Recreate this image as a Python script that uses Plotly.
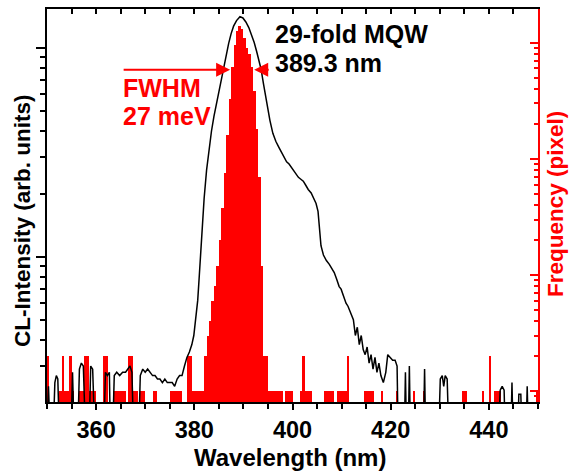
import plotly.graph_objects as go

# Histogram of emission wavelength per pixel (bin centres in nm, 0.5 nm bins)
hist_center = [
    350.25, 352.75, 353.25, 353.75, 354.25, 354.75, 355.25, 356.75, 357.25, 357.75,
    358.25, 358.75, 359.25, 359.75, 361.75, 362.25, 363.75, 364.25, 364.75, 365.25,
    365.75, 366.75, 367.25, 367.75, 368.25, 369.25, 369.75, 371.75, 372.25, 375.25,
    375.75, 376.25, 376.75, 377.25, 378.75, 379.25, 379.75, 380.25, 380.75, 381.25,
    381.75, 382.25, 382.75, 383.25, 383.75, 384.25, 384.75, 385.25, 385.75, 386.25,
    386.75, 387.25, 387.75, 388.25, 388.75, 389.25, 389.75, 390.25, 390.75, 391.25,
    391.75, 392.25, 392.75, 393.25, 393.75, 394.25, 394.75, 395.25, 395.75, 396.25,
    396.75, 397.25, 397.75, 398.75, 399.25, 399.75, 401.75, 402.25, 402.75, 403.25,
    403.75, 406.75, 407.25, 407.75, 408.25, 409.25, 409.75, 410.25, 410.75, 411.25,
    414.75, 415.25, 415.75, 416.25, 418.25, 421.25, 424.75, 426.75, 434.75, 435.25,
    438.75, 440.25, 441.25, 441.75, 442.25, 449.75,
]
hist_count = [
    2, 1, 2, 1, 1, 2, 1, 1, 1, 2,
    2, 1, 1, 1, 2, 2, 1, 1, 1, 1,
    1, 2, 2, 1, 1, 1, 1, 1, 1, 1,
    1, 1, 1, 1, 2, 2, 1, 1, 1, 1,
    1, 2, 3, 4, 6, 8, 12, 20, 38, 75,
    160, 330, 620, 950, 1250, 1400, 1300, 1100, 900, 800,
    620, 380, 180, 70, 12, 2, 2, 1, 1, 1,
    1, 1, 1, 1, 1, 1, 1, 2, 1, 1,
    1, 1, 1, 1, 1, 1, 1, 1, 1, 2,
    1, 1, 1, 1, 1, 1, 1, 1, 1, 1,
    1, 2, 1, 1, 1, 1,
]

# Cathodoluminescence spectrum (arb. units, log scale)
cl_wavelength = [
    350.0, 350.3, 350.6, 351.3, 351.6, 351.9, 352.2, 352.5, 354.9, 355.2,
    355.5, 356.3, 356.6, 357.0, 357.4, 357.8, 358.6, 358.9, 359.3, 359.7,
    361.6, 361.9, 362.3, 362.7, 362.9, 363.4, 363.7, 364.2, 364.8, 365.4,
    366.0, 366.5, 366.9, 367.3, 367.6, 368.7, 369.0, 369.5, 370.0, 370.5,
    371.0, 371.5, 372.0, 372.5, 373.0, 373.5, 374.0, 374.5, 375.0, 375.5,
    376.0, 376.5, 377.0, 377.5, 378.0, 378.5, 379.0, 379.5, 379.9, 380.3,
    380.7, 381.0, 381.5, 382.0, 382.5, 383.0, 383.5, 384.0, 384.5, 385.0,
    385.5, 386.0, 386.5, 387.0, 387.5, 388.0, 388.6, 389.3, 389.9, 390.5,
    391.1, 391.6, 392.2, 392.7, 393.2, 393.6, 394.1, 394.5, 394.8, 395.4,
    396.0, 396.6, 397.2, 397.8, 398.3, 398.8, 399.3, 399.7, 400.2, 400.7,
    401.2, 401.7, 402.2, 402.7, 403.2, 403.8, 404.3, 404.8, 405.2, 405.5,
    405.8, 406.3, 406.9, 407.5, 408.0, 408.5, 409.0, 409.5, 409.9, 410.4,
    410.9, 411.3, 411.8, 412.4, 412.8, 413.2, 413.6, 414.0, 414.4, 414.8,
    415.2, 415.6, 416.0, 416.4, 416.8, 417.2, 417.6, 418.0, 418.5, 419.0,
    419.4, 419.9, 420.4, 420.9, 421.3, 421.5, 422.8, 423.0, 423.2, 423.6,
    423.8, 424.0, 426.7, 426.9, 427.1, 429.8, 430.1, 430.5, 430.8, 431.1,
    431.5, 431.8, 442.0, 442.3, 442.7, 443.1, 443.3, 444.5, 444.7, 444.9,
    445.9, 446.1, 446.5, 446.7, 447.6, 447.8, 448.0, 450.0,
]
cl_intensity = [
    0.15, 0.24, 0.15, 0.15, 0.25, 0.27, 0.26, 0.15, 0.15, 0.28,
    0.15, 0.15, 0.29, 0.31, 0.30, 0.15, 0.15, 0.30, 0.29, 0.15,
    0.15, 0.28, 0.27, 0.28, 0.15, 0.15, 0.27, 0.28, 0.27, 0.28,
    0.28, 0.29, 0.30, 0.28, 0.15, 0.15, 0.27, 0.29, 0.28, 0.29,
    0.28, 0.27, 0.27, 0.26, 0.26, 0.25, 0.26, 0.25, 0.25, 0.25,
    0.24, 0.26, 0.27, 0.27, 0.30, 0.33, 0.35, 0.38, 0.42, 0.52,
    0.62, 0.80, 1.3, 1.9, 2.6, 3.3, 4.0, 4.7, 5.4, 6.2,
    7.0, 8.0, 9.2, 10.5, 11.7, 12.7, 13.5, 14.1, 13.9, 13.3,
    12.5, 11.6, 10.6, 9.6, 8.6, 7.9, 6.7, 5.9, 5.5, 4.5,
    3.9, 3.57, 3.35, 3.15, 3.0, 2.85, 2.78, 2.7, 2.6, 2.5,
    2.4, 2.35, 2.3, 2.2, 2.1, 2.02, 1.9, 1.8, 1.65, 1.3,
    1.13, 1.02, 0.96, 0.92, 0.88, 0.84, 0.78, 0.72, 0.70, 0.65,
    0.60, 0.58, 0.54, 0.50, 0.42, 0.46, 0.38, 0.42, 0.36, 0.34,
    0.37, 0.31, 0.34, 0.29, 0.33, 0.28, 0.31, 0.27, 0.25, 0.28,
    0.34, 0.33, 0.32, 0.32, 0.30, 0.15, 0.15, 0.28, 0.15, 0.15,
    0.30, 0.15, 0.15, 0.29, 0.15, 0.15, 0.26, 0.27, 0.24, 0.27,
    0.26, 0.15, 0.15, 0.23, 0.24, 0.23, 0.15, 0.15, 0.25, 0.15,
    0.15, 0.22, 0.22, 0.15, 0.15, 0.24, 0.15, 0.15,
]

x_major_ticks = [360, 380, 400, 420, 440]
x_minor_ticks = [350 + 5 * i for i in range(21) if (350 + 5 * i) not in x_major_ticks]
x_top_ticks = [350 + 5 * i for i in range(21)]

freq_major = [1, 10, 100, 1000]
freq_minor = [0.9] + [m * d for d in (1, 10, 100, 1000) for m in range(2, 10)]
cl_major = [1, 10]
cl_minor = [m / 10 for m in range(2, 10)] + list(range(2, 10))

peak_label = "389.3 nm"
fwhm_label = "27 meV"
fwhm_left = 387.3
fwhm_right = 392.2

FONT = "Liberation Sans"
RED = "#ff0000"

# plot area in pixels: x 47..538, y 7..402
L, R, T, B = 47, 538, 7, 402
W, H = 570, 472


def px(xp):
    return (xp - L) / (R - L)


def py(yp):
    return (B - yp) / (B - T)


fig = go.Figure()

fig.add_trace(go.Bar(
    x=hist_center, y=hist_count, width=0.5,
    marker=dict(color=RED, line=dict(width=0)),
    xaxis="x", yaxis="y", hoverinfo="skip",
))
fig.add_trace(go.Scatter(
    x=cl_wavelength, y=cl_intensity, mode="lines",
    line=dict(color="black", width=1.5),
    xaxis="x", yaxis="y2", hoverinfo="skip",
))
# empty trace so the top tick axis is drawn
fig.add_trace(go.Scatter(x=[None], y=[None], xaxis="x2", yaxis="y",
                         showlegend=False, hoverinfo="skip"))

tickfont = dict(family=FONT, size=23.5, color="black", weight="bold")

fig.update_layout(
    width=W, height=H,
    margin=dict(l=L, r=W - R, t=T, b=H - B),
    paper_bgcolor="white", plot_bgcolor="white",
    showlegend=False, bargap=0,
    xaxis=dict(
        range=[350, 450], tickmode="array", tickvals=x_major_ticks,
        ticks="outside", ticklen=6, tickwidth=2, tickcolor="black",
        showline=True, linecolor="black", linewidth=2, mirror=True,
        showgrid=False, zeroline=False, tickfont=tickfont,
        minor=dict(tickmode="array", tickvals=x_minor_ticks, ticks="outside",
                   ticklen=5, tickwidth=1.5, tickcolor="black", showgrid=False),
    ),
    xaxis2=dict(
        range=[350, 450], overlaying="x", side="top", anchor="y",
        tickmode="array", tickvals=x_top_ticks, ticks="inside", ticklen=5,
        tickwidth=1.5, tickcolor="black", showticklabels=False,
        showline=False, showgrid=False, zeroline=False,
    ),
    yaxis=dict(
        type="log", range=[-0.094, 3.29], side="right", anchor="x",
        tickmode="array", tickvals=freq_major, ticks="inside", ticklen=8,
        tickwidth=1.5, tickcolor=RED, showticklabels=False,
        showline=True, linecolor=RED, linewidth=2,
        showgrid=False, zeroline=False,
        minor=dict(tickmode="array", tickvals=freq_minor, ticks="inside",
                   ticklen=4, tickwidth=1.5, tickcolor=RED, showgrid=False),
    ),
    yaxis2=dict(
        type="log", range=[-0.695, 1.186], side="left", overlaying="y", anchor="x",
        tickmode="array", tickvals=cl_major, ticks="outside", ticklen=9,
        tickwidth=1.5, tickcolor="black", showticklabels=False,
        showline=True, linecolor="black", linewidth=2,
        showgrid=False, zeroline=False,
        minor=dict(tickmode="array", tickvals=cl_minor, ticks="outside",
                   ticklen=5, tickwidth=1.5, tickcolor="black", showgrid=False),
    ),
)


def bold(size, color):
    return dict(family=FONT, size=size, weight="bold", color=color)


annotations = [
    dict(text="CL-Intensity (arb. units)", textangle=-90, x=px(23), y=py(220),
         font=bold(22.5, "black")),
    dict(text="Frequency (pixel)", textangle=-90, x=px(555), y=py(203),
         font=bold(22.5, RED)),
    dict(text="Wavelength (nm)", x=px(290), y=py(457.5), font=bold(24, "black")),
    dict(text="29-fold MQW", x=px(273), y=py(32), xanchor="left",
         font=bold(25, "black")),
    dict(text=peak_label, x=px(273), y=py(61), xanchor="left",
         font=bold(25, "black")),
    dict(text="FWHM", x=px(121), y=py(86), xanchor="left",
         font=bold(25, RED)),
    dict(text=fwhm_label, x=px(121), y=py(115), xanchor="left",
         font=bold(25, RED)),
]
for a in annotations:
    a.setdefault("xanchor", "center")
    a.update(xref="paper", yref="paper", yanchor="middle", showarrow=False)

# FWHM arrows pointing at the half-maximum edges of the histogram
annotations += [
    dict(x=fwhm_left, y=py(68), xref="x", yref="paper", text="", showarrow=True,
         ax=-108, ay=0, axref="pixel", ayref="pixel", arrowhead=2, arrowsize=1.4,
         arrowwidth=2, arrowcolor=RED, standoff=0),
    dict(x=fwhm_right, y=py(68), xref="x", yref="paper", text="", showarrow=True,
         ax=16, ay=0, axref="pixel", ayref="pixel", arrowhead=2, arrowsize=1.4,
         arrowwidth=2, arrowcolor=RED, standoff=0),
]
fig.update_layout(annotations=annotations)

fig.write_html("out.html")
